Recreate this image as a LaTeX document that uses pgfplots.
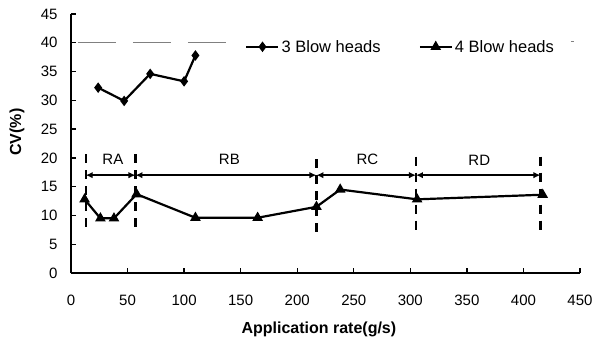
\documentclass[border=0pt]{standalone}
\usepackage{fontspec}
\setmainfont{Liberation Sans}
\usepackage{pgfplots}
\pgfplotsset{compat=1.18}
\usetikzlibrary{arrows.meta}
\begin{document}
\begin{tikzpicture}
\begin{axis}[
  scale only axis,
  width=509pt, height=259pt,
  xmin=0, xmax=450, ymin=0, ymax=45,
  xtick={0,50,...,450}, ytick={0,5,...,45},
  axis x line*=bottom, axis y line*=left,
  axis line style={line width=1.8pt},
  tick style={line width=1.3pt, black},
  major tick length=5pt,
  /pgf/number format/assume math mode=true,
  tick label style={font=\fontsize{15}{17}\selectfont},
  xticklabel style={yshift=-18pt},
  yticklabel style={xshift=-10pt},
  xlabel={\bfseries Application rate(g/s)},
  ylabel={\bfseries CV(\%)},
  label style={font=\fontsize{16}{18}\selectfont},
  xlabel style={at={(axis description cs:0.487,-0.216)}, anchor=center},
  ylabel style={at={(axis description cs:-0.106,0.544)}, anchor=center},
  legend columns=2,
  legend style={draw=none, fill=none, at={(axis cs:154,39.3)}, anchor=west,
    font=\fontsize{16.5}{18}\selectfont, inner xsep=0pt,
    /tikz/every even column/.append style={column sep=36pt}},
  legend image code/.code={\draw[mark repeat=2,mark phase=2,#1] plot coordinates {(0pt,0pt)(16pt,0pt)(32pt,0pt)};},
  clip=false,
]
% artifact dashed line at y=40
\addplot[gray, line width=0.7pt, dash pattern=on 38pt off 17pt, forget plot] coordinates {(6,40)(140,40)};
\addplot[gray, line width=0.7pt, dash pattern=on 3pt off 3pt, forget plot] coordinates {(442,40.2)(446,40.2)};
% region boundaries
\addplot[black, line width=2.4pt, dash pattern=on 9pt off 7pt, forget plot] coordinates {(13,20.6)(13,7.2)};
\addplot[black, line width=2.4pt, dash pattern=on 9pt off 7pt, forget plot] coordinates {(57,20.6)(57,7.2)};
\addplot[black, line width=2.4pt, dash pattern=on 9pt off 7pt, forget plot] coordinates {(217,19.8)(217,6.5)};
\addplot[black, line width=2.4pt, dash pattern=on 9pt off 7pt, forget plot] coordinates {(305,20.2)(305,6.5)};
\addplot[black, line width=2.4pt, dash pattern=on 9pt off 7pt, forget plot] coordinates {(415,20.2)(415,6.5)};
% arrows
\addplot[black, line width=1.5pt, {Latex[length=7pt,width=6.5pt]}-{Latex[length=7pt,width=6.5pt]}, forget plot] coordinates {(13,17)(57,17)};
\addplot[black, line width=1.5pt, {Latex[length=7pt,width=6.5pt]}-{Latex[length=7pt,width=6.5pt]}, forget plot] coordinates {(57,17)(217,17)};
\addplot[black, line width=1.5pt, {Latex[length=7pt,width=6.5pt]}-{Latex[length=7pt,width=6.5pt]}, forget plot] coordinates {(217,17)(305,17)};
\addplot[black, line width=1.5pt, {Latex[length=7pt,width=6.5pt]}-{Latex[length=7pt,width=6.5pt]}, forget plot] coordinates {(305,17)(415,17)};
\node[font=\fontsize{15}{17}\selectfont] at (axis cs:37,19.8) {RA};
\node[font=\fontsize{15}{17}\selectfont] at (axis cs:140,19.8) {RB};
\node[font=\fontsize{15}{17}\selectfont] at (axis cs:262,19.8) {RC};
\node[font=\fontsize{15}{17}\selectfont] at (axis cs:361,19.5) {RD};
% data
\addplot[black, line width=2.2pt, mark=diamond*, mark size=3.5pt, mark options={solid}] coordinates {
(24,32.2) (47,29.9) (70,34.6) (100,33.3) (110,37.8)};
\addlegendentry{3 Blow heads}
\addplot[black, line width=2.2pt, mark=triangle*, mark size=4pt, mark options={solid}] coordinates {
(12,12.8) (26,9.5) (38,9.5) (58,13.7) (110,9.6) (165,9.6) (217,11.5) (238,14.5) (306,12.8) (417,13.6)};
\addlegendentry{4 Blow heads}
\end{axis}
\pgfresetboundingbox
\path (-71pt,-65pt) rectangle (535pt,273pt);
\end{tikzpicture}
\end{document}
